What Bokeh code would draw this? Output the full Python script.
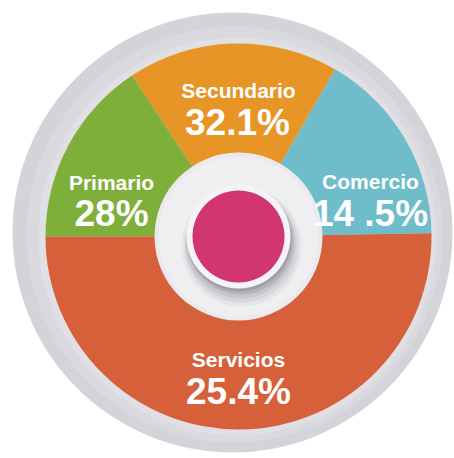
import numpy as np
from bokeh.plotting import figure
from bokeh.models import Range1d, ColumnDataSource
from bokeh.core.properties import value
from bokeh.embed import file_html
from bokeh.resources import INLINE

# ---- data ----
sectors = ["Comercio", "Secundario", "Primario", "Servicios"]
shares = [14.5, 32.1, 28.0, 25.4]
share_labels = ["14 .5%", "32.1%", "28%", "25.4%"]
# angular spans of the slices as drawn in the picture (degrees)
spans_deg = [59.0, 63.5, 56.5, 181.0]
colors = ["#6fbccb", "#e69526", "#7daf3a", "#d6603a"]

# ---- layout (picture pixel coordinates) ----
W, H = 454, 458

def Y(py):
    return H - py

cx, cy = 238, Y(236)
start0 = np.deg2rad(1.0)
spans = np.deg2rad(spans_deg)
starts = start0 + np.concatenate([[0], np.cumsum(spans)[:-1]])
ends = starts + spans

name_pos = [(370, 181), (238, 90), (111, 182), (238, 359)]
val_pos = [(370, 213), (237, 122), (111, 213), (238, 391)]

p = figure(width=W, height=H, x_range=Range1d(0, W), y_range=Range1d(0, H),
           output_backend="svg", toolbar_location=None, min_border=0,
           background_fill_color="white", border_fill_color="white")
p.axis.visible = False
p.grid.visible = False
p.outline_line_color = None

# outer gray ring
p.circle(x=[232], y=[Y(232)], radius=220, fill_color="#d3d3da", line_color=None)
p.circle(x=[234], y=[Y(234)], radius=208, fill_color="#d9d9df", line_color=None)
p.circle(x=[237], y=[Y(236)], radius=199, fill_color="#dfdfe4", line_color=None)

src = ColumnDataSource(dict(start=starts, end=ends, color=colors, sector=sectors, share=shares))
p.wedge(x=cx, y=cy, radius=193, start_angle="start", end_angle="end",
        fill_color="color", line_color=None, source=src)

# central hole disc
p.circle(x=[cx], y=[cy], radius=84, fill_color="#eaeaee", line_color=None)
p.circle(x=[cx], y=[cy], radius=80, fill_color="#efeff2", line_color=None)

# shadow under the white ring
for r, dx, dy, a in [(60, 3, 10, 0.06), (57, 3, 9, 0.09), (55, 2, 7, 0.12), (53, 2, 5, 0.16), (52, 1, 3, 0.2)]:
    p.circle(x=[cx + dx], y=[cy - dy], radius=r, fill_color="#505058", fill_alpha=a, line_color=None)

# white ring and magenta centre
p.circle(x=[cx], y=[cy], radius=52, fill_color="#f4f4f6", line_color=None)
p.circle(x=[cx], y=[cy], radius=46, fill_color="#d23670", line_color=None)

# labels
nx = [q[0] for q in name_pos]
ny = [Y(q[1]) for q in name_pos]
vx = [q[0] for q in val_pos]
vy = [Y(q[1]) for q in val_pos]
p.text(x=nx, y=ny, text=sectors, text_font=value("Liberation Sans"), text_font_style="bold",
       text_font_size="21px", text_color="white", text_align="center", text_baseline="alphabetic")
p.text(x=vx, y=vy, text=share_labels, text_font=value("Liberation Sans"), text_font_style="bold",
       text_font_size="37px", text_color="white", text_align="center", text_baseline="alphabetic")

open("out.html", "w").write(file_html(p, INLINE))
